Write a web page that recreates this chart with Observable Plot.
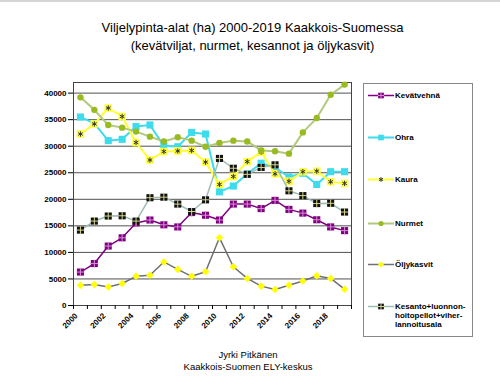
<!DOCTYPE html>
<html><head><meta charset="utf-8">
<script src="https://cdn.jsdelivr.net/npm/d3@7"></script>
<script src="https://cdn.jsdelivr.net/npm/@observablehq/plot@0.6"></script>
<style>
html,body{margin:0;padding:0;background:#fff;}
#wrap{position:relative;width:500px;height:380px;overflow:hidden;font-family:Arial,"Liberation Sans",sans-serif;color:#000;}
#topline{position:absolute;left:0;top:0;width:500px;height:2px;background:#d4d4d4;}
#title{position:absolute;left:0;width:505px;top:19px;text-align:center;font-size:13px;line-height:18px;}
#chart{position:absolute;left:0;top:70px;}
#legend{position:absolute;left:363px;top:83px;width:110px;height:254px;border:1px solid #888;box-sizing:border-box;}
.item{position:absolute;left:4px;font-size:8px;font-weight:bold;line-height:9px;}
.item svg{position:absolute;left:0;top:0;}
.item span{position:absolute;left:27px;white-space:nowrap;}
#caption{position:absolute;left:0;width:496px;top:349px;text-align:center;font-size:9.5px;line-height:12px;}
</style></head>
<body>
<div id="wrap">
  <div id="topline"></div>
  <div id="title">Viljelypinta-alat (ha) 2000-2019 Kaakkois-Suomessa<br>(kevätviljat, nurmet, kesannot ja öljykasvit)</div>
  <div id="chart"></div>
  <div id="legend"></div>
  <div id="caption">Jyrki Pitkänen<br>Kaakkois-Suomen ELY-keskus</div>
</div>
<script>
// ---- data ----
const years = [2000,2001,2002,2003,2004,2005,2006,2007,2008,2009,2010,2011,2012,2013,2014,2015,2016,2017,2018,2019];
const kevatvehna = [6300,7900,11200,12750,15550,16100,15200,14800,17500,17000,16100,19100,19100,18250,19800,18100,17400,16150,14800,14100];
const ohra       = [35500,34300,31050,31300,33700,34000,30100,29900,32600,32300,21400,22500,24800,26800,26000,24200,24900,22800,25200,25200];
const kaura      = [32300,34200,37200,35600,30700,27400,29000,29100,29200,27000,22800,24300,27100,28900,24800,23400,25200,25300,23300,23000];
const nurmet     = [39200,36850,34000,33500,32750,31800,30900,31700,31050,29900,30600,31050,30900,29200,29050,28600,32600,35300,39700,41600];
const oljykasvit = [3830,3960,3500,4150,5500,5700,8200,6800,5500,6350,12750,7300,5100,3650,3000,3830,4600,5600,5100,3070];
const kesanto    = [14200,15900,16850,16900,15900,20300,20400,19100,17700,19900,27700,25850,24700,26000,26500,21600,20700,19200,19250,17600];
const seriesNames = ["Kevätvehnä","Ohra","Kaura","Nurmet","Öljykasvit","Kesanto+luonnon-hoitopellot+viher-lannoitusala"];
const legendLabels = ["Kevätvehnä","Ohra","Kaura","Nurmet","Öljykasvit","Kesanto+luonnon-<br>hoitopellot+viher-<br>lannoitusala"];
const yTicks = [0,5000,10000,15000,20000,25000,30000,35000,40000];
const xLabelYears = [2000,2002,2004,2006,2008,2010,2012,2014,2016,2018];

// ---- styles ----
const styles = [
  {line:"#800080", lw:1.5, marker:"square", fill:"#800080", r:4, inner:"plus", innerColor:"#d68fd6", innerR:2.6},
  {line:"#3ddbec", lw:2,   marker:"square", fill:"#3ddbec", r:4},
  {line:"#ffff33", lw:2,   marker:"square", fill:"#ffff40", r:4.3, inner:"asterisk", innerColor:"#333", innerR:2.5, legendNoFill:true},
  {line:"#b2c97c", lw:2,   marker:"circle", fill:"#99bb22", r:3.2},
  {line:"#707070", lw:1.5, marker:"diamond2", fill:"#ffff00", r:3.4},
  {line:"#9dbcb2", lw:1.5, marker:"square", fill:"#111", r:4, inner:"plus", innerColor:"#d8d890", innerR:2.6}
];
const allValues = [kevatvehna, ohra, kaura, nurmet, oljykasvit, kesanto];
const seriesData = allValues.map((vals, s) => years.map((yr, i) => ({year: yr, value: vals[i], series: seriesNames[s]})));
const boundaries = years.map(y => y - 0.5).concat([years[years.length-1] + 0.5]);

const marks = [
  Plot.ruleY(yTicks.slice(1), {stroke: "#505050", strokeWidth: 1}),
  Plot.frame({stroke: "#444"}),
  Plot.axisY(yTicks, {tickSize: 5, tickPadding: 2, tickFormat: d => String(d), fontWeight: "bold", fontSize: 8, label: null}),
  Plot.axisX(boundaries, {tickSize: 4, tickFormat: () => "", label: null}),
  Plot.axisX(xLabelYears, {tickSize: 0, tickPadding: 9, tickRotate: -45, dx: -4, tickFormat: d => String(d), fontWeight: "bold", fontSize: 8, label: null})
];
seriesData.forEach((d, s) => {
  const st = styles[s];
  marks.push(Plot.line(d, {x: "year", y: "value", stroke: st.line, strokeWidth: st.lw}));
  marks.push(Plot.dot(d, {x: "year", y: "value", symbol: st.marker, r: st.r, fill: st.fill, stroke: "none"}));
  if (st.inner) marks.push(Plot.dot(d, {x: "year", y: "value", symbol: st.inner, r: st.innerR, stroke: st.innerColor, strokeWidth: 1, fill: "none"}));
});

const chart = Plot.plot({
  width: 360, height: 275,
  marginLeft: 73, marginRight: 9, marginTop: 12, marginBottom: 40,
  x: {domain: [years[0] - 0.5, years[years.length-1] + 0.5], label: null},
  y: {domain: [0, 42000], label: null},
  style: {fontFamily: "Arial, 'Liberation Sans', sans-serif", fontSize: "8px", color: "#000", background: "transparent"},
  marks
});
document.getElementById("chart").appendChild(chart);

// ---- legend (HTML, samples drawn with same styles) ----
const legend = document.getElementById("legend");
const itemTops = [7, 49, 91, 135, 176, 218];
const symbolMap = {circle: d3.symbolCircle, square: d3.symbolSquare, diamond2: d3.symbolDiamond2, plus: d3.symbolPlus, asterisk: d3.symbolAsterisk || d3.symbolCross};
function sym(type, cx, cy, r) {
  const p = d3.symbol(symbolMap[type], Math.PI * r * r)();
  return `<path transform="translate(${cx},${cy})" d="${p}"`;
}
legendLabels.forEach((lab, s) => {
  const st = styles[s];
  const div = document.createElement("div");
  div.className = "item";
  div.style.top = itemTops[s] + "px";
  let svg = `<svg width="26" height="10"><line x1="0" x2="26" y1="4.5" y2="4.5" stroke="${st.line}" stroke-width="${st.lw}"/>`;
  if (!st.legendNoFill) svg += sym(st.marker, 13, 4.5, st.r * 0.8) + ` fill="${st.fill}"/>`;
  if (st.inner) svg += sym(st.inner, 13, 4.5, 2.2) + ` fill="none" stroke="${st.innerColor}" stroke-width="1"/>`;
  svg += `</svg>`;
  div.innerHTML = svg + `<span>${lab}</span>`;
  legend.appendChild(div);
});
</script>
</body></html>
